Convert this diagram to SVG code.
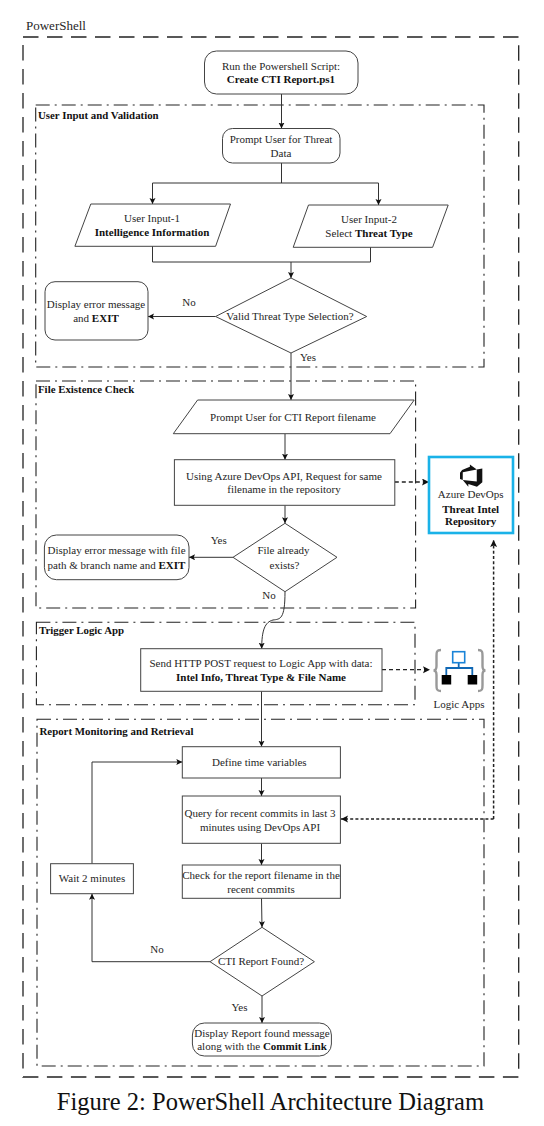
<svg xmlns="http://www.w3.org/2000/svg" width="544" height="1126" viewBox="0 0 544 1126">
<style>
text{font-family:"Liberation Serif","Times New Roman",serif;font-size:11px;fill:#262626;text-anchor:middle}
.b{font-weight:bold;fill:#111}
.gl{font-weight:bold;text-anchor:start;fill:#111;font-size:10.85px}
.n{fill:#fff;stroke:#444;stroke-width:1}
.c{fill:none;stroke:#333;stroke-width:1;marker-end:url(#a)}
.l{fill:none;stroke:#333;stroke-width:1}
.d{fill:none;stroke:#222;stroke-width:1.3;stroke-dasharray:4 3;marker-end:url(#a2)}
.o{fill:none;stroke:#222;stroke-width:1.5;stroke-dasharray:3 2.2;marker-end:url(#a2)}
.g{fill:none;stroke:#222;stroke-width:1.1;stroke-dasharray:14 5 2 5}
</style>
<defs>
<marker id="a" markerUnits="userSpaceOnUse" markerWidth="7" markerHeight="7" refX="6" refY="3" orient="auto"><path d="M0 0L6 3L0 6L1.2 3Z" fill="#111"/></marker>
<marker id="a2" markerUnits="userSpaceOnUse" markerWidth="8" markerHeight="8" refX="7" refY="3.5" orient="auto"><path d="M0 0L7 3.5L0 7L1.4 3.5Z" fill="#111"/></marker>
</defs>
<rect width="544" height="1126" fill="#fff"/>
<text x="26" y="30" style="text-anchor:start;font-size:13px">PowerShell</text>
<rect id="outer" x="23" y="37" width="495.7" height="1040" fill="none" stroke="#222" stroke-width="1.3" stroke-dasharray="15.5 8.5"/>
<g id="group-validation"><rect class="g" x="35.7" y="105" width="448.3" height="262"/><text class="gl" x="38" y="118.5">User Input and Validation</text></g>
<g id="group-file"><rect class="g" x="36" y="381" width="379.6" height="227"/><text class="gl" x="38" y="393">File Existence Check</text></g>
<g id="group-trigger"><rect class="g" x="36.4" y="622.3" width="378.6" height="82.4"/><text class="gl" x="39" y="633.5">Trigger Logic App</text></g>
<g id="group-monitor"><rect class="g" x="37" y="719.3" width="447" height="346.7"/><text class="gl" x="39.5" y="735">Report Monitoring and Retrieval</text></g>
<g id="connectors">
<path class="c" d="M281.5 94V128.5"/>
<path class="l" d="M281.5 163V183M152.5 183H378.5"/>
<path class="c" d="M152.5 183V204"/>
<path class="c" d="M378.5 183V205"/>
<path class="l" d="M152.5 246V262H370.5V247"/>
<path class="c" d="M291 262V278"/>
<path class="c" d="M215.6 316.5H148"/>
<path class="c" d="M291 353V400"/>
<path class="c" d="M285 433.7V459.7"/>
<path class="c" d="M285 505.3V523.3"/>
<path class="c" d="M233 557.3H189"/>
<path class="c" d="M285 591.7C285 620 280 619 273 620C265 622 261.7 630 261.7 648.7"/>
<path class="d" d="M394.8 482H429"/>
<path class="d" d="M382 669.7H430"/>
<path class="o" d="M493.600 819V540"/>
<path class="o" d="M493.600 819H341"/>
<path class="c" d="M261.500 691.300V746.700"/>
<path class="c" d="M261.500 778V796"/>
<path class="c" d="M261.500 843.300V865"/>
<path class="c" d="M261.500 898.300L262 927.300"/>
<path class="c" d="M210 961.700H92V893.700"/>
<path class="c" d="M92 863.700V762H182.300"/>
<path class="c" d="M262 996V1023"/>
</g>
<g id="run"><rect class="n" x="204.500" y="51" width="153.500" height="43" rx="12"/><text x="281" y="69.500">Run the Powershell Script:</text><text class="b" x="281" y="83">Create CTI Report.ps1</text></g>
<g id="prompt"><rect class="n" x="222.500" y="128.500" width="117.500" height="34.500" rx="10"/><text x="281" y="143">Prompt User for Threat</text><text x="281" y="157">Data</text></g>
<g id="input1"><path class="n" d="M90.800 204H230.500L215.600 246.300H74.900Z"/><text x="152" y="222">User Input-1</text><text class="b" x="152" y="236">Intelligence Information</text></g>
<g id="input2"><path class="n" d="M308.500 205H448.200L432.600 247.300H293.200Z"/><text x="369" y="223">User Input-2</text><text x="369" y="237">Select <tspan class="b">Threat Type</tspan></text></g>
<g id="valid"><path class="n" d="M291 278L366.700 316.500L291 353L215.600 316.500Z"/><text x="290" y="320">Valid Threat Type Selection?</text></g>
<g id="error1"><rect class="n" x="45" y="281.700" width="103" height="58.300" rx="10"/><text x="96" y="308">Display error message</text><text x="96" y="321.500">and <tspan class="b">EXIT</tspan></text></g>
<text x="189" y="306">No</text><text x="308" y="360.700">Yes</text>
<g id="prompt-file"><path class="n" d="M197.600 400H414.200L390 433.700H173.300Z"/><text x="293" y="420.700">Prompt User for CTI Report filename</text></g>
<g id="request"><rect class="n" x="174.400" y="459.700" width="220.400" height="45.600"/><text x="284" y="480">Using Azure DevOps API, Request for same</text><text x="284" y="493.300">filename in the repository</text></g>
<g id="exists"><path class="n" d="M285 523.300L337 557.300L285 591.700L233 557.300Z"/><text x="283.500" y="554.300">File already</text><text x="284.500" y="568.700">exists?</text></g>
<g id="error2"><rect class="n" x="44.400" y="535" width="144.600" height="44.700" rx="12"/><text x="116.500" y="554.300">Display error message with file</text><text x="116.500" y="568.700">path &amp; branch name and <tspan class="b">EXIT</tspan></text></g>
<text x="218.700" y="543.700">Yes</text><text x="269" y="599">No</text>
<g id="azure"><rect x="429" y="457" width="84" height="76" fill="#fff" stroke="#1ab2e8" stroke-width="2.600"/><path transform="translate(460 464.500) scale(.93)" fill="#111" d="M0 8.877L2.247 5.910l8.405-3.416V.022l7.370 5.393L2.966 8.338v8.225L0 15.707zm24-4.450v14.651l-5.753 4.900-9.303-3.057v3.056l-5.978-7.416 15.057 1.798V5.415z"/><text x="470.700" y="498">Azure DevOps</text><text class="b" x="470.700" y="512.700">Threat Intel</text><text class="b" x="470.700" y="525.300">Repository</text></g>
<g id="send"><rect class="n" x="140.700" y="648.700" width="241.300" height="42.600"/><text x="261" y="667">Send HTTP POST request to Logic App with data:</text><text class="b" x="261" y="680.700">Intel Info, Threat Type &amp; File Name</text></g>
<g id="logic-apps"><path d="M441 650C436.500 650 436.500 652 436.500 656V666C436.500 669 435.500 670.500 433.500 670.500C435.500 670.500 436.500 672 436.500 675V685C436.500 689 436.500 691 441 691M478 650C482.500 650 482.500 652 482.500 656V666C482.500 669 483.500 670.500 485.500 670.500C483.500 670.500 482.500 672 482.500 675V685C482.500 689 482.500 691 478 691" fill="none" stroke="#999" stroke-width="2.400"/><path d="M458.700 662.700V668M446.300 675V668H472.300V675" fill="none" stroke="#1068b5" stroke-width="1.800"/><rect x="452.700" y="651.700" width="12" height="11" fill="#fff" stroke="#1a84d8" stroke-width="1.600"/><rect x="441.700" y="675" width="9.500" height="9.500" fill="#000"/><rect x="467.700" y="675" width="9.500" height="9.500" fill="#000"/><text x="459" y="708">Logic Apps</text></g>
<g id="define"><rect class="n" x="182.300" y="746.700" width="158.100" height="31.300"/><text x="259.300" y="766">Define time variables</text></g>
<g id="query"><rect class="n" x="182.300" y="796" width="158.100" height="47.300"/><text x="260" y="816.700">Query for recent commits in last 3</text><text x="260" y="830.700">minutes using DevOps API</text></g>
<g id="check"><rect class="n" x="182.300" y="865" width="158.100" height="33.300"/><text x="261" y="879">Check for the report filename in the</text><text x="261" y="892.700">recent commits</text></g>
<g id="found"><path class="n" d="M262 927.300L314.400 961.700L262 996L210 961.700Z"/><text x="261" y="965.300">CTI Report Found?</text></g>
<g id="wait"><rect class="n" x="50.600" y="863.700" width="82.800" height="30"/><text x="92" y="882.300">Wait 2 minutes</text></g>
<text x="157" y="952.700">No</text><text x="239.500" y="1011">Yes</text>
<g id="display"><rect class="n" x="192.400" y="1023" width="139" height="33" rx="12"/><text x="262" y="1036.700">Display Report found message</text><text x="262" y="1050.300">along with the <tspan class="b">Commit Link</tspan></text></g>
<text x="270.400" y="1110" style="font-size:24.500px;fill:#111">Figure 2: PowerShell Architecture Diagram</text>
</svg>
